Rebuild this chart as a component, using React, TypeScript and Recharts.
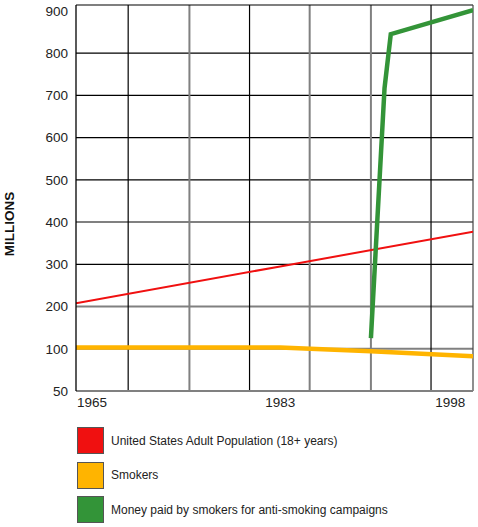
import React from 'react';
import { LineChart, Line, XAxis, YAxis, ReferenceLine, Label } from 'recharts';

// y axis labels (evenly spaced on the chart although the values are not)
const Y_TICK_VALUES = [50, 100, 200, 300, 400, 500, 600, 700, 800, 900];
const X_TICKS = [1965, 1983, 1998];

// US adult population (millions)
const POP_YEARS = [1965, 1983, 2000];
const POP_VALUES = [208, 295, 377];

// Smokers (millions)
const SMOKER_YEARS = [1965, 1983, 1991, 2000];
const SMOKER_VALUES = [103, 103, 97, 91];

// Money paid by smokers for anti-smoking campaigns
const MONEY_YEARS = [1991, 1992.2, 1992.75, 2000];
const MONEY_VALUES = [125, 717, 845, 902];

// grid lines, as drawn in the original
const GRID_YEARS = [1969.6, 1975, 1980.3, 1985.6, 1991, 1996.3];
const GRID_YEAR_COLORS = ['#000', '#808080', '#000', '#808080', '#808080', '#000'];
const GRID_VALUES = [100, 200, 300, 400, 500, 600, 700, 800];
const GRID_VALUE_COLORS = ['#808080', '#808080', '#000', '#808080', '#000', '#000', '#000', '#000'];

const COLORS = { pop: '#f01010', smokers: '#ffb400', money: '#339438' };
const FONT = '"Liberation Sans", Arial, sans-serif';
const Y_MAX = 9.14;

// map a value in millions to the position on the (uneven) tick scale
function toAxis(v: number) {
  const t = Y_TICK_VALUES;
  let i = 0;
  while (i < t.length - 2 && v > t[i + 1]) i++;
  return i + (v - t[i]) / (t[i + 1] - t[i]);
}

const build = (years: number[], values: number[]) =>
  years.map((year, i) => ({ year, u: toAxis(values[i]), value: values[i] }));

const popData = build(POP_YEARS, POP_VALUES);
const smokerData = build(SMOKER_YEARS, SMOKER_VALUES);
const moneyData = build(MONEY_YEARS, MONEY_VALUES);

const LEGEND = [
  { label: 'United States Adult Population (18+ years)', color: COLORS.pop },
  { label: 'Smokers', color: COLORS.smokers },
  { label: 'Money paid by smokers for anti-smoking campaigns', color: COLORS.money },
];

function XTick(props: any) {
  const { x, y, payload, index } = props;
  return (
    <text
      x={index === 0 ? x + 1 : x}
      y={y}
      dy="0.71em"
      textAnchor={index === 0 ? 'start' : 'middle'}
      fontSize={13.5}
      fill="#222"
      fontFamily={FONT}
    >
      {payload.value}
    </text>
  );
}

export default function App() {
  return (
    <div style={{ position: 'absolute', left: 0, top: 0, width: 478, height: 527, background: '#fff', fontFamily: FONT }}>
      <LineChart width={478} height={410} margin={{ top: 5, right: 5, bottom: 0, left: 0 }}>
        <XAxis
          type="number"
          dataKey="year"
          domain={[1965, 2000]}
          ticks={X_TICKS}
          height={19}
          tickLine={false}
          tickMargin={0}
          axisLine={{ stroke: '#808080', strokeWidth: 2 }}
          tick={<XTick />}
          allowDataOverflow
        />
        <YAxis
          type="number"
          dataKey="u"
          domain={[0, Y_MAX]}
          ticks={Y_TICK_VALUES.map((_, i) => i)}
          tickFormatter={(i: number) => String(Y_TICK_VALUES[i])}
          width={76}
          tickLine={false}
          axisLine={{ stroke: '#000', strokeWidth: 1.3 }}
          tick={{ fontSize: 13.5, fill: '#222', fontFamily: FONT }}
          allowDataOverflow
        >
          <Label
            content={(p: any) => {
              const vb = p.viewBox;
              const cx = 9;
              const cy = vb.y + vb.height / 2 + 26;
              return (
                <text
                  x={cx}
                  y={cy}
                  transform={`rotate(-90 ${cx} ${cy})`}
                  textAnchor="middle"
                  dominantBaseline="central"
                  fontSize={13.5}
                  fontWeight="bold"
                  fill="#111"
                  fontFamily={FONT}
                >
                  MILLIONS
                </text>
              );
            }}
          />
        </YAxis>

        {GRID_VALUES.map((v, i) => (
          <ReferenceLine
            key={`h-${v}`}
            y={toAxis(v)}
            stroke={GRID_VALUE_COLORS[i]}
            strokeWidth={GRID_VALUE_COLORS[i] === '#000' ? 1.2 : 2}
          />
        ))}
        {GRID_YEARS.map((yr, i) => (
          <ReferenceLine
            key={`v-${yr}`}
            x={yr}
            stroke={GRID_YEAR_COLORS[i]}
            strokeWidth={GRID_YEAR_COLORS[i] === '#000' ? 1.2 : 2}
          />
        ))}
        <ReferenceLine y={Y_MAX} stroke="#000" strokeWidth={1.2} />
        <ReferenceLine x={2000} stroke="#444" strokeWidth={1.2} />

        <Line data={popData} dataKey="u" type="linear" stroke={COLORS.pop} strokeWidth={2} dot={false} isAnimationActive={false} />
        <Line data={smokerData} dataKey="u" type="linear" stroke={COLORS.smokers} strokeWidth={4.5} dot={false} isAnimationActive={false} />
        <Line data={moneyData} dataKey="u" type="linear" stroke={COLORS.money} strokeWidth={4.5} dot={false} isAnimationActive={false} />
      </LineChart>

      <div style={{ position: 'relative', height: 117 }}>
        {LEGEND.map((item, i) => (
          <div
            key={item.label}
            style={{ position: 'absolute', left: 77, top: 17 + i * 34.5, display: 'flex', alignItems: 'center', height: 27 }}
          >
            <div style={{ width: 25, height: 25, background: item.color, border: '1px solid #555' }} />
            <span style={{ marginLeft: 7, fontSize: 12, color: '#222' }}>{item.label}</span>
          </div>
        ))}
      </div>
    </div>
  );
}
